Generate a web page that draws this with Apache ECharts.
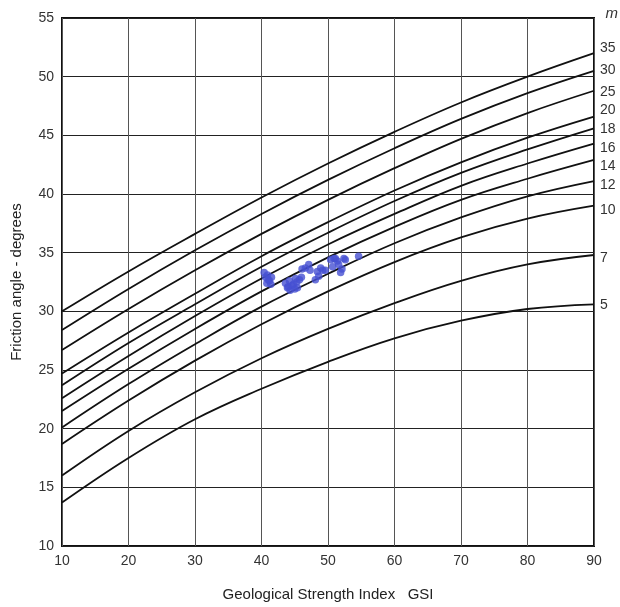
<!DOCTYPE html>
<html>
<head>
<meta charset="utf-8">
<script src="https://cdn.jsdelivr.net/npm/echarts@6/dist/echarts.min.js"></script>
<style>html,body{margin:0;padding:0;background:#fff}#c{width:620px;height:607px}</style>
</head>
<body>
<div id="c"></div>
<script>
// GSI positions where curve values were read
var gsi = [10, 20, 30, 40, 50, 60, 70, 80, 90];
// m values (curve labels)
var mValues = [35, 30, 25, 20, 18, 16, 14, 12, 10, 7, 5];
// friction angle (degrees) for each m at the GSI positions above
var phi35 = [30.0, 33.4, 36.6, 39.7, 42.6, 45.3, 47.8, 50.0, 52.0];
var phi30 = [28.4, 31.9, 35.2, 38.3, 41.2, 43.9, 46.4, 48.6, 50.5];
var phi25 = [26.7, 30.2, 33.5, 36.6, 39.5, 42.2, 44.7, 46.9, 48.8];
var phi20 = [24.7, 28.2, 31.5, 34.7, 37.6, 40.3, 42.7, 44.8, 46.6];
var phi18 = [23.7, 27.3, 30.6, 33.8, 36.7, 39.4, 41.8, 43.8, 45.6];
var phi16 = [22.6, 26.2, 29.6, 32.8, 35.7, 38.3, 40.7, 42.6, 44.3];
var phi14 = [21.5, 25.1, 28.5, 31.7, 34.6, 37.2, 39.5, 41.3, 42.9];
var phi12 = [20.1, 23.8, 27.2, 30.4, 33.2, 35.8, 38.0, 39.8, 41.1];
var phi10 = [18.7, 22.4, 25.8, 28.9, 31.7, 34.2, 36.3, 37.9, 39.0];
var phi7  = [16.0, 19.8, 23.1, 26.0, 28.5, 30.7, 32.6, 34.0, 34.8];
var phi5  = [13.7, 17.5, 20.8, 23.4, 25.7, 27.7, 29.2, 30.2, 30.6];
var curves = [phi35, phi30, phi25, phi20, phi18, phi16, phi14, phi12, phi10, phi7, phi5];

// measured points (GSI, friction angle)
var pointsGSI = [40.4, 40.6, 40.9, 41.2, 41.5, 40.8, 41.0, 41.4,
                 43.6, 44.0, 44.3, 44.6, 45.0, 45.3, 45.7, 46.0, 44.2, 44.8, 45.4, 43.9, 45.1,
                 46.1, 46.6, 47.1, 47.3,
                 48.1, 48.4, 48.6, 48.9, 49.2, 49.6,
                 50.4, 50.7, 50.9, 51.1, 51.4, 51.6, 51.9, 52.1, 52.4, 52.6, 54.6];
var pointsPhi = [33.3, 32.9, 33.1, 32.6, 32.9, 32.4, 32.7, 32.3,
                 32.4, 32.1, 31.8, 32.2, 31.9, 32.5, 32.7, 32.9, 32.6, 32.3, 32.0, 32.0, 32.8,
                 33.6, 33.7, 34.0, 33.5,
                 32.7, 33.4, 33.0, 33.7, 33.5, 33.5,
                 34.4, 33.8, 34.5, 34.5, 34.3, 34.0, 33.3, 33.6, 34.5, 34.4, 34.7];

// style: vertical nudge (px) of each curve's end label, in mValues order
var labelNudge = [-5, -1, 1, -6, 1, 5, 6, 4, 4, 3, 1];

var chart = echarts.init(document.getElementById('c'));
var FONT = 'Liberation Sans, Arial, sans-serif';
var series = [];
mValues.forEach(function (m, i) {
  series.push({
    type: 'line',
    name: 'm=' + m,
    smooth: 0.4,
    symbol: 'none',
    lineStyle: { color: '#111', width: 1.8 },
    data: gsi.map(function (g, k) { return [g, curves[i][k]]; }),
    endLabel: {
      show: true,
      formatter: String(m),
      color: '#333',
      fontSize: 14,
      fontFamily: FONT,
      distance: 6,
      offset: [0, labelNudge[i]]
    },
    z: 3
  });
});
series.push({
  type: 'scatter',
  symbol: 'circle',
  symbolSize: 7.5,
  itemStyle: { color: '#4650d2' },
  data: pointsGSI.map(function (g, k) { return [g, pointsPhi[k]]; }),
  z: 4
});

chart.setOption({
  animation: false,
  backgroundColor: '#fff',
  textStyle: { fontFamily: FONT },
  grid: { left: 62, right: 26, top: 18, bottom: 58, show: true, borderColor: '#111', borderWidth: 2, backgroundColor: 'transparent' },
  graphic: [{
    type: 'text', right: 2, top: 6,
    style: { text: 'm', fontSize: 15, fontStyle: 'italic', fill: '#333', fontFamily: FONT }
  }],
  xAxis: {
    type: 'value', min: 10, max: 90, interval: 10,
    name: 'Geological Strength Index   GSI',
    nameLocation: 'middle', nameGap: 41,
    nameTextStyle: { fontSize: 15, color: '#222' },
    axisLine: { show: false },
    axisTick: { show: false },
    axisLabel: { color: '#333', fontSize: 14, margin: 8 },
    splitLine: { show: true, lineStyle: { color: '#555', width: 1 } }
  },
  yAxis: {
    type: 'value', min: 10, max: 55, interval: 5,
    name: 'Friction angle - degrees',
    nameLocation: 'middle', nameGap: 38,
    nameTextStyle: { fontSize: 15, color: '#222' },
    axisLine: { show: false },
    axisTick: { show: false },
    axisLabel: { color: '#333', fontSize: 14, margin: 8 },
    splitLine: { show: true, lineStyle: { color: '#222', width: 1 } }
  },
  series: series
});
</script>
</body>
</html>
